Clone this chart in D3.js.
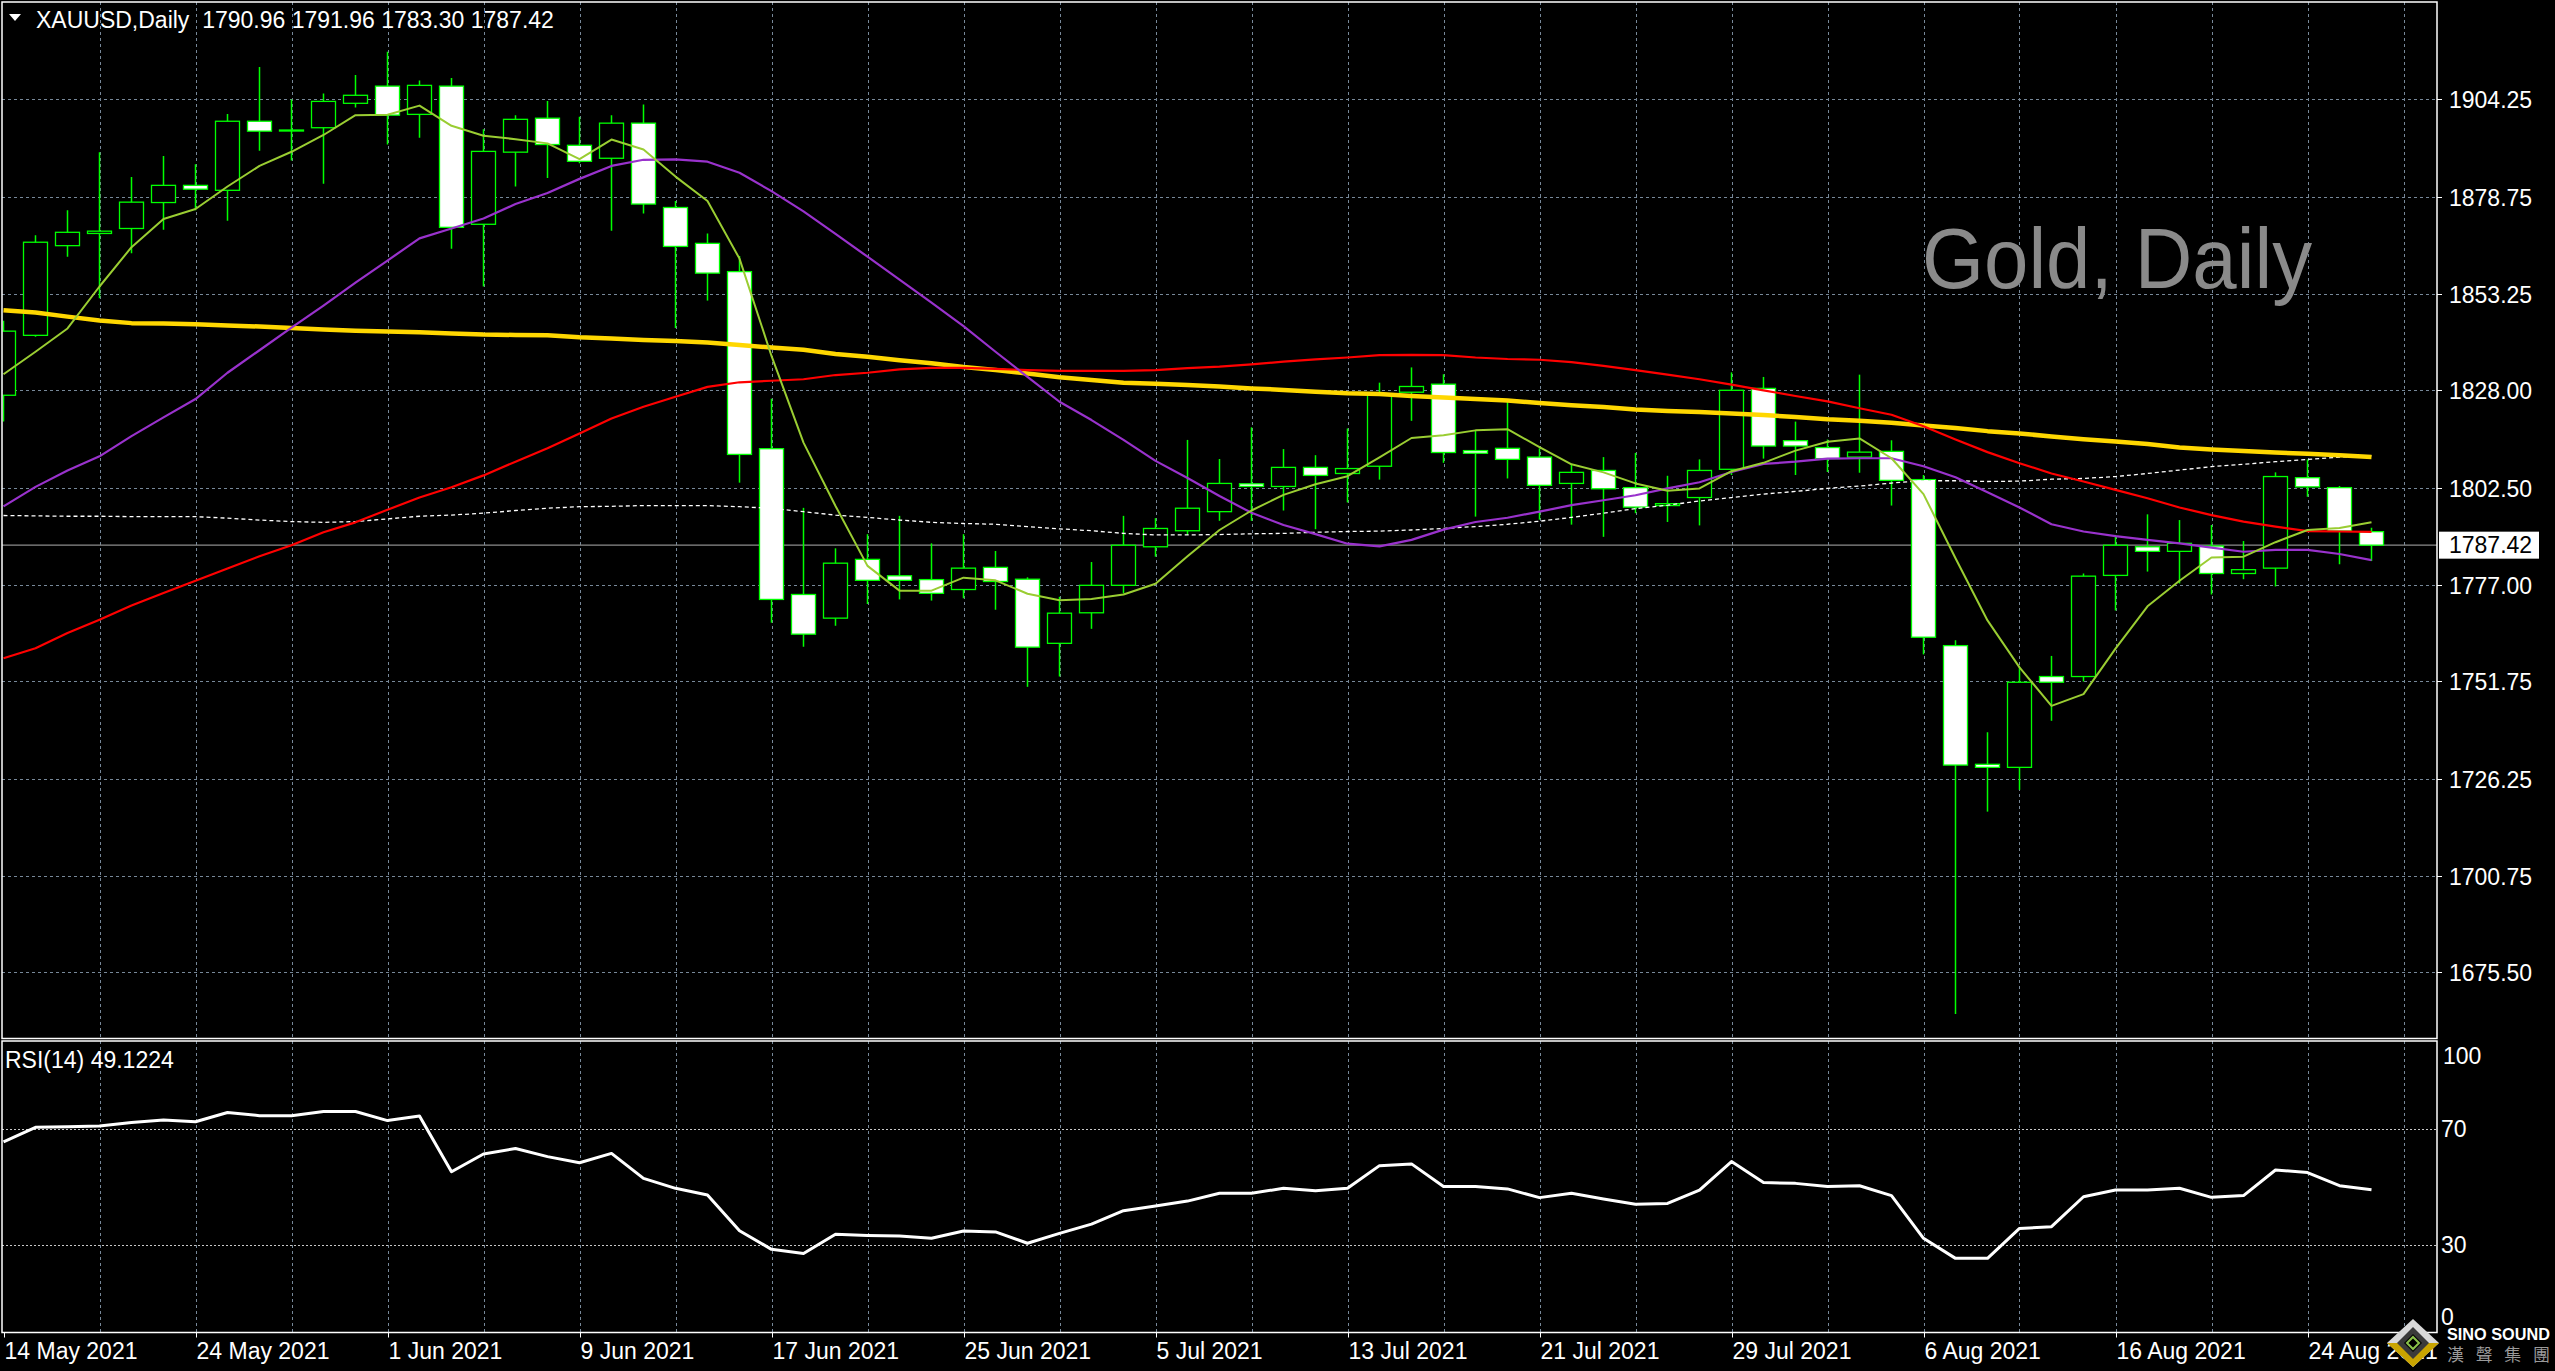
<!DOCTYPE html>
<html><head><meta charset="utf-8">
<script src="https://cdn.jsdelivr.net/npm/d3@7"></script>
<style>html,body{margin:0;padding:0;background:#000;overflow:hidden}</style>
</head><body>
<svg id="c" width="2555" height="1371" xmlns="http://www.w3.org/2000/svg"></svg>
<script>
// ---------------- DATA ----------------
const dates = ["2021-05-14",
 "2021-05-17","2021-05-18","2021-05-19","2021-05-20","2021-05-21",
 "2021-05-24","2021-05-25","2021-05-26","2021-05-27","2021-05-28",
 "2021-05-31","2021-06-01","2021-06-02","2021-06-03","2021-06-04",
 "2021-06-07","2021-06-08","2021-06-09","2021-06-10","2021-06-11",
 "2021-06-14","2021-06-15","2021-06-16","2021-06-17","2021-06-18",
 "2021-06-21","2021-06-22","2021-06-23","2021-06-24","2021-06-25",
 "2021-06-28","2021-06-29","2021-06-30","2021-07-01","2021-07-02",
 "2021-07-05","2021-07-06","2021-07-07","2021-07-08","2021-07-09",
 "2021-07-12","2021-07-13","2021-07-14","2021-07-15","2021-07-16",
 "2021-07-19","2021-07-20","2021-07-21","2021-07-22","2021-07-23",
 "2021-07-26","2021-07-27","2021-07-28","2021-07-29","2021-07-30",
 "2021-08-02","2021-08-03","2021-08-04","2021-08-05","2021-08-06",
 "2021-08-09","2021-08-10","2021-08-11","2021-08-12","2021-08-13",
 "2021-08-16","2021-08-17","2021-08-18","2021-08-19","2021-08-20",
 "2021-08-23","2021-08-24","2021-08-25","2021-08-26"];

const openP = [1826.7,1842.4,1865.9,1869.1,1870.4,1877.2,1881.7,1880.4,1898.5,1896.2,
 1896.8,1903.2,1907.7,1900.3,1907.7,1871.5,1890.4,1899.3,1892.2,1888.8,
 1898.0,1875.9,1866.5,1859.1,1812.7,1774.5,1768.3,1783.7,1779.4,1778.4,
 1775.8,1781.6,1778.5,1761.7,1769.7,1776.9,1787.0,1791.2,1796.2,1803.5,
 1802.8,1807.8,1806.2,1808.1,1827.5,1829.6,1812.2,1812.8,1810.5,1803.6,
 1807.0,1802.5,1797.8,1799.9,1807.3,1828.5,1814.8,1813.0,1810.5,1812.0,
 1804.6,1761.1,1730.0,1729.2,1753.0,1753.0,1779.5,1787.0,1785.8,1787.2,
 1780.0,1781.4,1805.1,1802.5,1790.96];
const highP = [1846.2,1868.6,1875.2,1890.4,1883.9,1889.4,1887.2,1900.4,1912.7,1904.2,
 1905.8,1910.6,1916.7,1909.2,1909.8,1896.4,1900.1,1903.8,1899.7,1900.1,
 1902.9,1877.6,1869.1,1863.2,1825.8,1797.2,1786.6,1790.3,1795.1,1787.9,
 1790.3,1785.9,1779.0,1773.9,1783.0,1795.1,1794.5,1815.0,1810.0,1818.3,
 1812.6,1811.0,1818.0,1830.0,1834.0,1832.2,1817.5,1825.1,1812.8,1808.7,
 1810.5,1811.6,1805.6,1809.9,1832.7,1831.5,1819.8,1815.1,1832.1,1814.9,
 1805.8,1762.5,1738.4,1755.6,1758.4,1780.0,1790.1,1795.5,1794.0,1792.7,
 1788.5,1806.5,1809.9,1802.9,1791.96];
const lowP = [1819.8,1842.0,1863.0,1852.1,1863.9,1870.1,1875.2,1872.4,1890.8,1888.2,
 1882.1,1902.1,1892.4,1894.2,1865.1,1855.2,1881.4,1883.6,1887.5,1869.8,
 1874.3,1844.3,1851.5,1803.8,1767.1,1760.8,1766.3,1772.0,1773.2,1772.9,
 1773.5,1770.5,1750.3,1753.0,1765.5,1774.8,1784.4,1790.1,1793.8,1793.8,
 1796.5,1791.6,1798.6,1804.6,1820.0,1809.0,1794.9,1804.9,1794.1,1792.8,
 1789.6,1795.8,1793.5,1792.6,1805.8,1810.1,1805.8,1806.6,1806.4,1797.8,
 1758.8,1664.6,1717.6,1723.3,1741.4,1751.7,1770.3,1780.5,1777.4,1774.5,
 1778.5,1776.6,1800.1,1782.4,1783.30];
const closeP = [1843.5,1866.8,1869.4,1869.7,1877.3,1881.7,1880.7,1898.5,1895.9,1896.2,
 1903.7,1905.3,1900.1,1907.9,1870.7,1890.6,1899.0,1892.4,1888.0,1898.0,
 1876.8,1865.7,1858.7,1811.2,1773.2,1764.1,1782.7,1778.2,1778.2,1774.8,
 1781.4,1777.9,1760.7,1769.6,1776.9,1787.4,1791.8,1797.1,1803.6,1802.8,
 1807.8,1805.7,1807.5,1826.8,1829.0,1811.7,1811.5,1809.9,1803.1,1806.5,
 1802.2,1797.4,1798.3,1807.0,1828.0,1813.4,1813.4,1810.1,1811.8,1804.4,
 1763.3,1729.8,1729.2,1751.5,1751.5,1779.3,1787.4,1785.8,1787.9,1780.0,
 1781.0,1805.4,1802.7,1791.1,1787.42];

// moving averages
const maFast = [1832.2,1838.1,1844.2,1855.2,1865.5,1872.9,1875.5,1881.4,1886.8,1890.5,
 1894.9,1900.1,1900.2,1902.6,1897.3,1894.7,1893.8,1892.7,1888.6,1893.7,
 1891.1,1884.0,1877.6,1862.5,1837.0,1814.3,1797.7,1782.0,1775.5,1775.5,
 1778.9,1778.2,1774.7,1773.0,1773.3,1774.5,1777.3,1784.5,1791.4,1796.5,
 1800.6,1803.4,1805.5,1810.4,1815.5,1816.2,1817.5,1817.8,1813.1,1808.6,
 1806.5,1803.6,1801.7,1802.3,1806.8,1809.0,1812.2,1814.5,1815.4,1810.2,
 1800.8,1784.0,1767.7,1755.4,1745.3,1748.4,1760.3,1771.4,1778.1,1784.2,
 1784.4,1788.2,1791.4,1791.9,1793.4];
const maPurple = [1797.6,1802.7,1807.0,1810.7,1816.0,1820.9,1825.7,1832.6,1838.5,1844.4,
 1850.2,1856.2,1862.0,1867.8,1870.4,1873.0,1876.8,1879.7,1883.4,1886.8,
 1888.4,1888.5,1887.9,1885.0,1880.2,1874.9,1869.0,1863.0,1857.0,1851.0,
 1844.8,1838.1,1831.5,1825.0,1820.2,1815.0,1809.5,1805.0,1800.3,1795.9,
 1792.7,1790.3,1787.8,1787.1,1788.8,1791.5,1793.5,1794.6,1796.2,1797.9,
 1799.2,1800.5,1802.3,1803.9,1806.6,1808.7,1809.3,1810.1,1810.2,1810.2,
 1808.1,1805.2,1801.3,1797.3,1792.9,1791.0,1789.8,1788.8,1787.9,1786.8,
 1785.7,1786.2,1786.2,1785.1,1783.5];
const maRed = [1757.8,1760.4,1764.4,1767.9,1771.6,1774.9,1778.1,1781.3,1784.5,1787.4,
 1790.8,1793.4,1796.7,1799.9,1802.6,1805.7,1809.3,1812.8,1816.7,1820.6,
 1823.7,1826.3,1828.9,1830.1,1830.5,1830.9,1832.0,1832.6,1833.5,1833.9,
 1833.9,1833.6,1833.3,1833.1,1833.1,1833.1,1833.3,1833.8,1834.2,1834.8,
 1835.5,1836.1,1836.6,1837.2,1837.3,1837.2,1836.6,1836.2,1836.0,1835.4,
 1834.4,1833.3,1832.1,1830.9,1829.5,1828.0,1826.5,1825.1,1823.3,1821.6,
 1818.6,1815.1,1811.8,1808.9,1806.2,1804.1,1801.9,1799.7,1797.3,1795.3,
 1793.6,1792.3,1791.1,1791.0,1790.9];
const maGold = [1849.0,1848.4,1847.3,1846.3,1845.6,1845.5,1845.3,1845.0,1844.7,1844.3,
 1843.9,1843.6,1843.4,1843.2,1842.9,1842.6,1842.5,1842.4,1841.9,1841.6,
 1841.2,1840.9,1840.5,1839.9,1839.2,1838.6,1837.5,1836.8,1835.9,1835.1,
 1834.1,1833.3,1832.4,1831.4,1830.7,1830.0,1829.7,1829.4,1829.0,1828.5,
 1828.1,1827.6,1827.2,1827.0,1826.5,1826.1,1825.7,1825.3,1824.7,1824.1,
 1823.6,1823.0,1822.6,1822.3,1821.9,1821.5,1821.0,1820.4,1820.0,1819.5,
 1818.8,1818.1,1817.3,1816.7,1815.9,1815.2,1814.6,1813.9,1813.0,1812.5,
 1812.1,1811.7,1811.4,1811.0,1810.5];
const maDotted = [1795.2,1795.1,1795.0,1795.0,1794.9,1794.9,1794.9,1794.5,1794.0,1793.6,
 1793.4,1793.6,1794.3,1795.0,1795.3,1795.8,1796.5,1797.1,1797.5,1797.6,
 1797.8,1797.8,1797.8,1797.5,1797.1,1796.2,1795.3,1794.7,1794.0,1793.4,
 1793.1,1792.9,1792.3,1791.7,1791.2,1790.5,1790.1,1790.1,1790.2,1790.4,
 1790.5,1790.8,1791.0,1791.1,1791.4,1791.8,1792.3,1792.9,1793.7,1794.7,
 1795.8,1797.0,1797.9,1799.0,1799.9,1800.8,1801.5,1802.3,1802.9,1803.7,
 1804.3,1804.3,1804.1,1804.2,1804.7,1804.9,1805.4,1806.2,1807.1,1808.0,
 1808.6,1809.3,1809.9,1810.5,1810.8];

const rsi = [65.6,70.6,70.8,71.0,72.2,73.1,72.5,75.7,74.6,74.6,
 76.0,76.0,72.9,74.5,55.3,61.4,63.3,60.5,58.4,61.6,
 53.0,49.6,47.3,35.0,28.6,27.2,33.8,33.4,33.2,32.4,
 34.9,34.6,30.7,34.1,37.3,41.9,43.5,45.2,47.9,47.9,
 49.6,48.8,49.6,57.4,58.0,50.2,50.2,49.4,46.4,47.9,
 45.9,44.1,44.4,49.0,58.8,51.6,51.3,50.2,50.5,47.1,
 32.4,25.5,25.5,35.8,36.4,46.7,49.0,49.0,49.6,46.5,
 47.1,55.9,55.0,50.5,49.1224];

const priceTicks = [1904.25,1878.75,1853.25,1828.00,1802.50,1777.00,1751.75,1726.25,1700.75,1675.50];
const priceTickLabels = ["1904.25","1878.75","1853.25","1828.00","1802.50","1777.00","1751.75","1726.25","1700.75","1675.50"];
const rsiLevels = [70, 30];
const rsiAxisLabels = ["100","70","30","0"];
const rsiAxisValues = [100, 70, 30, 0];
const symbolName = "XAUUSD,Daily";
const watermark = "Gold, Daily";

// ---------------- LAYOUT ----------------
const W = 2555, H = 1371;
const L = 2, R = 2437;
const mainTop = 2, mainBot = 1038.5;
const rsiTop = 1041, rsiBot = 1332.5;
const FONT = "'Liberation Sans', Arial, sans-serif";
const GRID = "#778899";

const svg = d3.select("#c");
svg.append("rect").attr("width", W).attr("height", H).attr("fill", "#000");

const x = d3.scaleLinear().domain([0, 75]).range([3.5, 2403.5]);
const y = d3.scaleLinear().domain([priceTicks[priceTicks.length-1], priceTicks[0]]).range([972.3, 99.3]);
const yr = d3.scaleLinear().domain([0, 100]).range([1332.5, 1041.8]);

const defs = svg.append("defs");
defs.append("clipPath").attr("id", "clipMain").append("rect")
  .attr("x", L + 0.5).attr("y", mainTop + 0.5).attr("width", R - L - 1).attr("height", mainBot - mainTop - 1);
defs.append("clipPath").attr("id", "clipRsi").append("rect")
  .attr("x", L + 0.5).attr("y", rsiTop + 0.5).attr("width", R - L - 1).attr("height", rsiBot - rsiTop - 1);

// ---------------- GRID ----------------
const gridX = d3.range(3, 76, 3);
const gGrid = svg.append("g").attr("stroke", GRID).attr("stroke-width", 1).attr("stroke-dasharray", "3,3");
gGrid.selectAll("line.vx").data(gridX).join("line")
  .attr("x1", d => Math.round(x(d)) + 0.5).attr("x2", d => Math.round(x(d)) + 0.5)
  .attr("y1", mainTop).attr("y2", mainBot);
gGrid.selectAll("line.vr").data(gridX).join("line")
  .attr("x1", d => Math.round(x(d)) + 0.5).attr("x2", d => Math.round(x(d)) + 0.5)
  .attr("y1", rsiTop).attr("y2", rsiBot);
gGrid.selectAll("line.hy").data(priceTicks).join("line")
  .attr("x1", L).attr("x2", R)
  .attr("y1", d => Math.round(y(d)) + 0.5).attr("y2", d => Math.round(y(d)) + 0.5);

// RSI levels
svg.append("g").selectAll("line").data(rsiLevels).join("line")
  .attr("x1", L).attr("x2", R)
  .attr("y1", d => Math.round(yr(d)) + 0.5).attr("y2", d => Math.round(yr(d)) + 0.5)
  .attr("stroke", "#c8c8c8").attr("stroke-width", 1).attr("stroke-dasharray", "2,2");

// current price line
const last = closeP.length - 1;
svg.append("line").attr("x1", L).attr("x2", R)
  .attr("y1", y(closeP[last])).attr("y2", y(closeP[last]))
  .attr("stroke", "#8c8c8c").attr("stroke-width", 1.2);

// watermark
svg.append("text").attr("x", 1922).attr("y", 288).text(watermark)
  .attr("font-family", FONT).attr("font-size", 86).attr("fill", "#8a8a8a")
  .attr("textLength", 390).attr("lengthAdjust", "spacingAndGlyphs");

// ---------------- CANDLES ----------------
const bars = dates.map((d, i) => ({ i, o: openP[i], h: highP[i], l: lowP[i], c: closeP[i] }));
const gMain = svg.append("g").attr("clip-path", "url(#clipMain)");
gMain.selectAll("line.wick").data(bars).join("line")
  .attr("x1", d => x(d.i)).attr("x2", d => x(d.i))
  .attr("y1", d => y(d.h)).attr("y2", d => y(d.l))
  .attr("stroke", "#00ff00").attr("stroke-width", 1.5);
gMain.selectAll("rect.body").data(bars).join("rect")
  .attr("x", d => x(d.i) - 12).attr("width", 24)
  .attr("y", d => y(Math.max(d.o, d.c)))
  .attr("height", d => Math.max(1, Math.abs(y(d.o) - y(d.c))))
  .attr("fill", d => d.c < d.o ? "#ffffff" : "#000000")
  .attr("stroke", "#00ff00").attr("stroke-width", 1.3);

// ---------------- MOVING AVERAGES ----------------
const lineGen = d3.line().x((d, i) => x(i)).y(d => y(d));
const maDefs = [
  { data: maDotted, color: "#ffffff", w: 1.3, dash: "4,3" },
  { data: maGold, color: "#ffd700", w: 4.5, dash: null },
  { data: maRed, color: "#ff0000", w: 2.2, dash: null },
  { data: maPurple, color: "#9932cc", w: 2.2, dash: null },
  { data: maFast, color: "#9acd32", w: 2, dash: null }
];
maDefs.forEach(m => {
  gMain.append("path").attr("d", lineGen(m.data))
    .attr("fill", "none").attr("stroke", m.color).attr("stroke-width", m.w)
    .attr("stroke-dasharray", m.dash).attr("stroke-linejoin", "round");
});

// ---------------- RSI ----------------
const gRsi = svg.append("g").attr("clip-path", "url(#clipRsi)");
gRsi.append("path")
  .attr("d", d3.line().x((d, i) => x(i)).y(d => yr(d))(rsi))
  .attr("fill", "none").attr("stroke", "#ffffff").attr("stroke-width", 3).attr("stroke-linejoin", "round");

// ---------------- BORDERS ----------------
svg.append("rect").attr("x", L).attr("y", mainTop).attr("width", R - L).attr("height", mainBot - mainTop)
  .attr("fill", "none").attr("stroke", "#ffffff").attr("stroke-width", 1.5);
svg.append("rect").attr("x", L).attr("y", rsiTop).attr("width", R - L).attr("height", rsiBot - rsiTop)
  .attr("fill", "none").attr("stroke", "#ffffff").attr("stroke-width", 1.5);

// ---------------- AXES ----------------
const gY = svg.append("g").attr("font-family", FONT).attr("font-size", 23).attr("fill", "#ffffff");
priceTicks.forEach((v, k) => {
  const yy = Math.round(y(v)) + 0.5;
  gY.append("line").attr("x1", R).attr("x2", R + 5).attr("y1", yy).attr("y2", yy)
    .attr("stroke", "#ffffff").attr("stroke-width", 1);
  gY.append("text").attr("x", 2449).attr("y", yy + 8).text(priceTickLabels[k]);
});

// current price tag
const py = y(closeP[last]);
svg.append("rect").attr("x", 2439).attr("y", py - 13.5).attr("width", 100).attr("height", 27).attr("fill", "#ffffff");
svg.append("text").attr("x", 2449).attr("y", py + 8).text(d3.format(".2f")(closeP[last]))
  .attr("font-family", FONT).attr("font-size", 23).attr("fill", "#000000");

// RSI axis labels (100 / 0 kept inside the pane like the terminal does)
const rsiLabelY = v => Math.min(Math.max(yr(v), rsiTop + 15), rsiBot - 16);
rsiAxisValues.forEach((v, k) => {
  svg.append("text").attr("x", v === 100 ? 2443 : 2441).attr("y", rsiLabelY(v) + 8).text(rsiAxisLabels[k])
    .attr("font-family", FONT).attr("font-size", 23).attr("fill", "#ffffff");
});

// date axis
const fmtIn = d3.timeParse("%Y-%m-%d"), fmtOut = d3.timeFormat("%-d %b %Y");
const dateTicks = d3.range(0, dates.length, 6);
const gX = svg.append("g").attr("font-family", FONT).attr("font-size", 23).attr("fill", "#ffffff");
dateTicks.forEach(i => {
  const xx = Math.round(x(i)) + 0.5;
  gX.append("line").attr("x1", xx).attr("x2", xx).attr("y1", rsiBot).attr("y2", rsiBot + 5)
    .attr("stroke", "#ffffff").attr("stroke-width", 1);
  gX.append("text").attr("x", Math.max(4, x(i) + 1)).attr("y", 1359).text(fmtOut(fmtIn(dates[i])));
});

// ---------------- HEADER TEXTS ----------------
svg.append("path").attr("d", "M9,14 L21,14 L15,21 Z").attr("fill", "#ffffff");
const f2 = d3.format(".2f");
svg.append("text").attr("x", 36).attr("y", 28)
  .attr("font-family", FONT).attr("font-size", 23).attr("fill", "#ffffff")
  .attr("xml:space", "preserve")
  .text(symbolName + "  " + [openP[last], highP[last], lowP[last], closeP[last]].map(f2).join(" "));
svg.append("text").attr("x", 5).attr("y", 1068)
  .attr("font-family", FONT).attr("font-size", 23).attr("fill", "#ffffff")
  .text("RSI(14) " + d3.format(".4f")(rsi[last]));

// ---------------- LOGO ----------------
const lg = svg.append("g");
lg.append("polygon").attr("points", "2413,1319 2439,1343 2413,1367 2387,1343").attr("fill", "#d8d8d8");
lg.append("polygon").attr("points", "2387,1343 2413,1367 2439,1343 2426,1343 2413,1356 2400,1343").attr("fill", "#c9a400");
lg.append("polygon").attr("points", "2413,1327 2429,1343 2413,1359 2397,1343").attr("fill", "#3a3a3a");
lg.append("polygon").attr("points", "2413,1334 2422,1343 2413,1352 2404,1343").attr("fill", "#000");
lg.append("polygon").attr("points", "2413,1337 2419,1343 2413,1349 2407,1343").attr("fill", "none")
  .attr("stroke", "#8bc34a").attr("stroke-width", 2);
lg.append("text").attr("x", 2447).attr("y", 1340).text("SINO SOUND")
  .attr("font-family", FONT).attr("font-weight", "bold").attr("font-size", 17).attr("fill", "#ffffff")
  .attr("textLength", 103).attr("lengthAdjust", "spacingAndGlyphs");
lg.append("text").attr("x", 2447).attr("y", 1361).text("漢聲集團")
  .attr("font-family", "'Noto Sans CJK TC', 'Noto Sans CJK SC', sans-serif").attr("font-size", 17).attr("fill", "#9a9a9a")
  .attr("textLength", 103).attr("lengthAdjust", "spacing");
</script>
</body></html>
